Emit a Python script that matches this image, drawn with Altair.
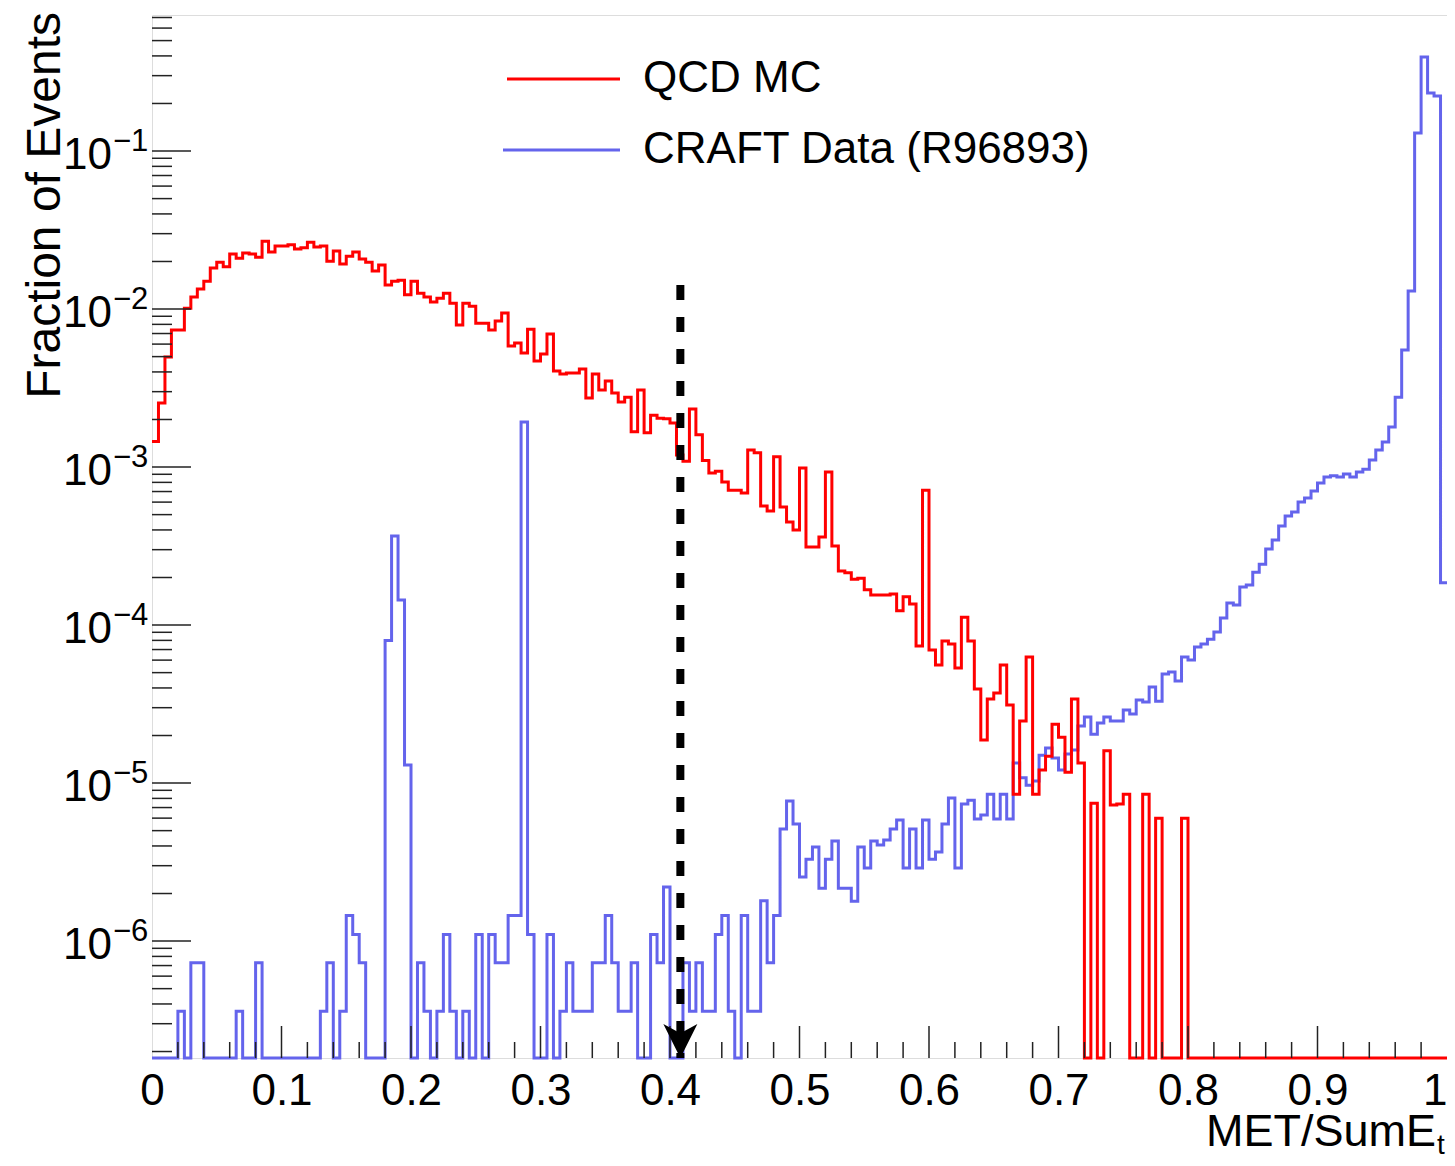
import altair as alt
import pandas as pd

# ---------------- data ----------------
N_BINS = 200
X_MIN, X_MAX = 0.0, 1.0
Y_MIN, Y_MAX = 1.82e-7, 0.726
CUT_X = 0.408
ARROW_TOP = 1.42e-2

qcd_mc = [
    1.45e-3, 2.54e-3, 4.97e-3, 7.36e-3, 7.36e-3, 1.01e-2, 1.19e-2, 1.34e-2, 1.50e-2, 1.82e-2,
    1.98e-2, 1.85e-2, 2.23e-2, 2.10e-2, 2.26e-2, 2.23e-2, 2.13e-2, 2.69e-2, 2.30e-2, 2.51e-2,
    2.51e-2, 2.55e-2, 2.40e-2, 2.44e-2, 2.65e-2, 2.47e-2, 2.51e-2, 2.01e-2, 2.33e-2, 1.93e-2,
    2.16e-2, 2.30e-2, 2.07e-2, 1.98e-2, 1.74e-2, 1.90e-2, 1.42e-2, 1.50e-2, 1.52e-2, 1.23e-2,
    1.50e-2, 1.26e-2, 1.19e-2, 1.11e-2, 1.17e-2, 1.26e-2, 1.09e-2, 7.93e-3, 1.09e-2, 1.04e-2,
    8.14e-3, 8.14e-3, 7.36e-3, 8.39e-3, 9.44e-3, 5.83e-3, 6.10e-3, 5.27e-3, 7.46e-3, 4.69e-3,
    5.19e-3, 6.95e-3, 4.05e-3, 3.88e-3, 3.94e-3, 3.94e-3, 4.17e-3, 2.74e-3, 3.88e-3, 3.07e-3,
    3.50e-3, 2.94e-3, 2.58e-3, 2.77e-3, 1.67e-3, 3.07e-3, 1.65e-3, 2.13e-3, 2.04e-3, 2.02e-3,
    1.90e-3, 1.19e-3, 1.09e-3, 2.33e-3, 1.60e-3, 1.10e-3, 9.16e-4, 9.40e-4, 8.04e-4, 7.14e-4,
    7.14e-4, 6.84e-4, 1.28e-3, 1.23e-3, 5.66e-4, 5.27e-4, 1.16e-3, 5.58e-4, 4.49e-4, 3.99e-4,
    9.86e-4, 3.12e-4, 3.12e-4, 3.61e-4, 9.30e-4, 3.16e-4, 2.20e-4, 2.14e-4, 1.95e-4, 1.98e-4,
    1.67e-4, 1.55e-4, 1.55e-4, 1.55e-4, 1.57e-4, 1.23e-4, 1.51e-4, 1.36e-4, 7.36e-5, 7.14e-4,
    6.95e-5, 5.58e-5, 7.93e-5, 7.60e-5, 5.35e-5, 1.12e-4, 7.93e-5, 3.94e-5, 1.87e-5, 3.40e-5,
    3.72e-5, 5.58e-5, 3.12e-5, 8.51e-6, 2.47e-5, 6.27e-5, 8.51e-6, 1.21e-5, 1.48e-5, 2.36e-5,
    1.95e-5, 1.17e-5, 3.40e-5, 1.34e-5, 0, 7.46e-6, 0, 1.60e-5, 7.26e-6, 7.36e-6,
    8.51e-6, 0, 0, 8.51e-6, 0, 6.0e-6, 0, 0, 0, 6.0e-6,
    0, 0, 0, 0, 0, 0, 0, 0, 0, 0,
    0, 0, 0, 0, 0, 0, 0, 0, 0, 0,
    0, 0, 0, 0, 0, 0, 0, 0, 0, 0,
    0, 0, 0, 0, 0, 0, 0, 0, 0, 0,
]

craft_data = [
    0, 0, 0, 0, 3.6e-7, 0, 7.3e-7, 7.3e-7, 0, 0,
    0, 0, 0, 3.6e-7, 0, 0, 7.3e-7, 0, 0, 0,
    0, 0, 0, 0, 0, 0, 3.6e-7, 7.3e-7, 0, 3.6e-7,
    1.45e-6, 1.1e-6, 7.3e-7, 0, 0, 0, 8.0e-5, 3.66e-4, 1.44e-4, 1.30e-5,
    0, 7.3e-7, 3.6e-7, 0, 3.6e-7, 1.1e-6, 3.6e-7, 0, 3.6e-7, 0,
    1.1e-6, 0, 1.1e-6, 7.3e-7, 7.3e-7, 1.45e-6, 1.45e-6, 1.93e-3, 1.1e-6, 0,
    0, 1.1e-6, 0, 3.6e-7, 7.3e-7, 3.6e-7, 3.6e-7, 3.6e-7, 7.3e-7, 7.3e-7,
    1.45e-6, 7.3e-7, 3.6e-7, 3.6e-7, 7.3e-7, 0, 0, 1.1e-6, 7.3e-7, 2.2e-6,
    0, 0, 7.3e-7, 3.6e-7, 7.3e-7, 3.6e-7, 3.6e-7, 1.1e-6, 1.45e-6, 3.6e-7,
    0, 1.45e-6, 3.6e-7, 3.6e-7, 1.8e-6, 7.3e-7, 1.45e-6, 5.12e-6, 7.69e-6, 5.51e-6,
    2.54e-6, 3.30e-6, 3.94e-6, 2.16e-6, 3.30e-6, 4.30e-6, 2.16e-6, 2.16e-6, 1.79e-6, 3.94e-6,
    2.90e-6, 4.30e-6, 4.06e-6, 4.36e-6, 5.12e-6, 5.83e-6, 2.90e-6, 5.12e-6, 2.90e-6, 5.83e-6,
    3.30e-6, 3.66e-6, 5.51e-6, 8.04e-6, 2.90e-6, 7.36e-6, 7.80e-6, 5.92e-6, 6.27e-6, 8.51e-6,
    5.92e-6, 8.51e-6, 5.92e-6, 1.34e-5, 1.08e-5, 9.70e-6, 1.03e-5, 1.50e-5, 1.67e-5, 1.44e-5,
    1.21e-5, 1.53e-5, 1.62e-5, 2.30e-5, 2.62e-5, 2.04e-5, 2.40e-5, 2.62e-5, 2.47e-5, 2.47e-5,
    2.90e-5, 2.74e-5, 3.35e-5, 3.26e-5, 4.06e-5, 3.30e-5, 4.90e-5, 5.05e-5, 4.43e-5, 6.27e-5,
    6.00e-5, 7.26e-5, 7.59e-5, 8.14e-5, 9.04e-5, 1.11e-4, 1.38e-4, 1.34e-4, 1.74e-4, 1.79e-4,
    2.16e-4, 2.43e-4, 3.03e-4, 3.45e-4, 4.24e-4, 4.90e-4, 5.19e-4, 6.00e-4, 6.37e-4, 7.05e-4,
    7.93e-4, 8.65e-4, 8.80e-4, 8.65e-4, 9.04e-4, 8.65e-4, 9.29e-4, 9.70e-4, 1.11e-3, 1.28e-3,
    1.44e-3, 1.79e-3, 2.77e-3, 5.51e-3, 1.30e-2, 0.130, 0.394, 0.233, 0.223, 1.85e-4,
]

x_tick_labels = [0, 0.1, 0.2, 0.3, 0.4, 0.5, 0.6, 0.7, 0.8, 0.9, 1]
y_label_values = [1e-1, 1e-2, 1e-3, 1e-4, 1e-5, 1e-6]
y_label_sup = ["\u22121", "\u22122", "\u22123", "\u22124", "\u22125", "\u22126"]
legend_labels = ["QCD MC", "CRAFT Data (R96893)"]

RED = "#ff0000"
BLUE = "#6464ec"
FONT = "Liberation Sans"
W, H = 1295, 1043

# ---------------- helpers ----------------
bin_w = (X_MAX - X_MIN) / N_BINS


def hist_frame(vals):
    rows = [{"x": X_MIN + i * bin_w, "v": v} for i, v in enumerate(vals)]
    rows.append({"x": X_MAX, "v": vals[-1]})
    return pd.DataFrame(rows)


xs = alt.Scale(domain=[X_MIN, X_MAX], nice=False, zero=False)
ys = alt.Scale(type="log", domain=[Y_MIN, Y_MAX], nice=False, clamp=True)
x_axis = alt.Axis(values=x_tick_labels, format="~g", labelFontSize=44, labelFont=FONT,
                  labelColor="black", ticks=False, tickSize=0, domain=False, grid=False,
                  labelPadding=11, labelOverlap=False, labelFlush=False, title=None,
                  labelAlign={"condition": {"test": "datum.value >= 1", "value": "right"},
                              "value": "center"})


def hist_layer(vals, color):
    return (alt.Chart(hist_frame(vals))
            .transform_calculate(vy=f"max(datum.v, {Y_MIN})")
            .mark_line(interpolate="step-after", color=color, strokeWidth=3,
                       strokeJoin="miter", strokeCap="butt")
            .encode(x=alt.X("x:Q", scale=xs, axis=x_axis),
                    y=alt.Y("vy:Q", scale=ys, axis=None)))


# tick positions
x_major = [0.1, 0.2, 0.3, 0.4, 0.5, 0.6, 0.7, 0.8, 0.9]
x_minor = [round(i * 0.02, 2) for i in range(1, 50) if i % 5 != 0]
y_major = [1e-6, 1e-5, 1e-4, 1e-3, 1e-2, 1e-1]
y_minor = [m * 10.0 ** k for k in range(-7, 0) for m in range(2, 10)
           if Y_MIN <= m * 10.0 ** k <= Y_MAX]


def xtick_layer(vals, length):
    return (alt.Chart(pd.DataFrame({"x": vals}))
            .mark_rule(color="#222", strokeWidth=1.5)
            .encode(x=alt.X("x:Q", scale=xs, axis=x_axis),
                    y=alt.value(H), y2=alt.value(H - length)))


def ytick_layer(vals, length):
    return (alt.Chart(pd.DataFrame({"y": vals}))
            .mark_rule(color="#222", strokeWidth=1.5)
            .encode(y=alt.Y("y:Q", scale=ys, axis=None),
                    x=alt.value(0), x2=alt.value(length)))


one = pd.DataFrame({"a": [0]})

ylab = pd.DataFrame({"y": y_label_values, "base": ["10"] * len(y_label_values),
                     "sup": y_label_sup})
ylab_base = (alt.Chart(ylab).mark_text(align="right", baseline="middle", fontSize=44,
                                       font=FONT, color="black", dy=5)
             .encode(y=alt.Y("y:Q", scale=ys, axis=None), x=alt.value(-40), text="base:N"))
ylab_sup = (alt.Chart(ylab).mark_text(align="left", baseline="middle", fontSize=31,
                                      font=FONT, color="black", dy=-9)
            .encode(y=alt.Y("y:Q", scale=ys, axis=None), x=alt.value(-39), text="sup:N"))

y_title = (alt.Chart(one).mark_text(angle=270, align="right", baseline="alphabetic",
                                    fontSize=48, font=FONT, color="black")
           .encode(x=alt.value(-92), y=alt.value(-3), text=alt.value("Fraction of Events")))
x_title = (alt.Chart(one).mark_text(align="right", baseline="alphabetic", fontSize=45,
                                    font=FONT, color="black")
           .encode(x=alt.value(1284), y=alt.value(1131), text=alt.value("MET/SumE")))
x_title_sub = (alt.Chart(one).mark_text(align="left", baseline="alphabetic", fontSize=28,
                                        font=FONT, color="black")
               .encode(x=alt.value(1285), y=alt.value(1139), text=alt.value("t")))

# legend
leg_red_line = alt.Chart(one).mark_rule(color=RED, strokeWidth=3).encode(
    x=alt.value(355), x2=alt.value(468), y=alt.value(64))
leg_blue_line = alt.Chart(one).mark_rule(color=BLUE, strokeWidth=3).encode(
    x=alt.value(351), x2=alt.value(468), y=alt.value(135))
leg_red_text = alt.Chart(one).mark_text(align="left", baseline="middle", fontSize=44,
                                        font=FONT, color="black").encode(
    x=alt.value(491), y=alt.value(64), text=alt.value(legend_labels[0]))
leg_blue_text = alt.Chart(one).mark_text(align="left", baseline="middle", fontSize=44,
                                         font=FONT, color="black").encode(
    x=alt.value(491), y=alt.value(135), text=alt.value(legend_labels[1]))

# cut arrow
cut_df = pd.DataFrame({"x": [CUT_X], "top": [ARROW_TOP], "bot": [Y_MIN]})
cut_line = (alt.Chart(cut_df).mark_rule(color="black", strokeWidth=8, strokeDash=[15, 17])
            .encode(x=alt.X("x:Q", scale=xs, axis=x_axis),
                    y=alt.Y("top:Q", scale=ys, axis=None), y2="bot:Q"))
cut_head = (alt.Chart(cut_df)
            .mark_point(shape="M-1,-2L0,-1.45L1,-2L0,0Z", filled=True, color="black",
                        opacity=1, size=1156, strokeWidth=0)
            .encode(x=alt.X("x:Q", scale=xs, axis=x_axis),
                    y=alt.Y("bot:Q", scale=ys, axis=None)))

chart = alt.layer(
    hist_layer(craft_data, BLUE),
    hist_layer(qcd_mc, RED),
    xtick_layer(x_major, 32),
    xtick_layer(x_minor, 16),
    ytick_layer(y_major, 39),
    ytick_layer(y_minor, 20),
    cut_line, cut_head,
    ylab_base, ylab_sup, y_title, x_title, x_title_sub,
    leg_red_line, leg_blue_line, leg_red_text, leg_blue_text,
).properties(
    width=W, height=H,
    autosize=alt.AutoSizeParams(type="none"),
    padding={"left": 144, "top": 7, "right": 0, "bottom": 96},
    background="white",
).configure_view(stroke="#222", strokeWidth=2).configure(font=FONT)

chart.save("out.html", embed_options={"renderer": "svg", "actions": False})
